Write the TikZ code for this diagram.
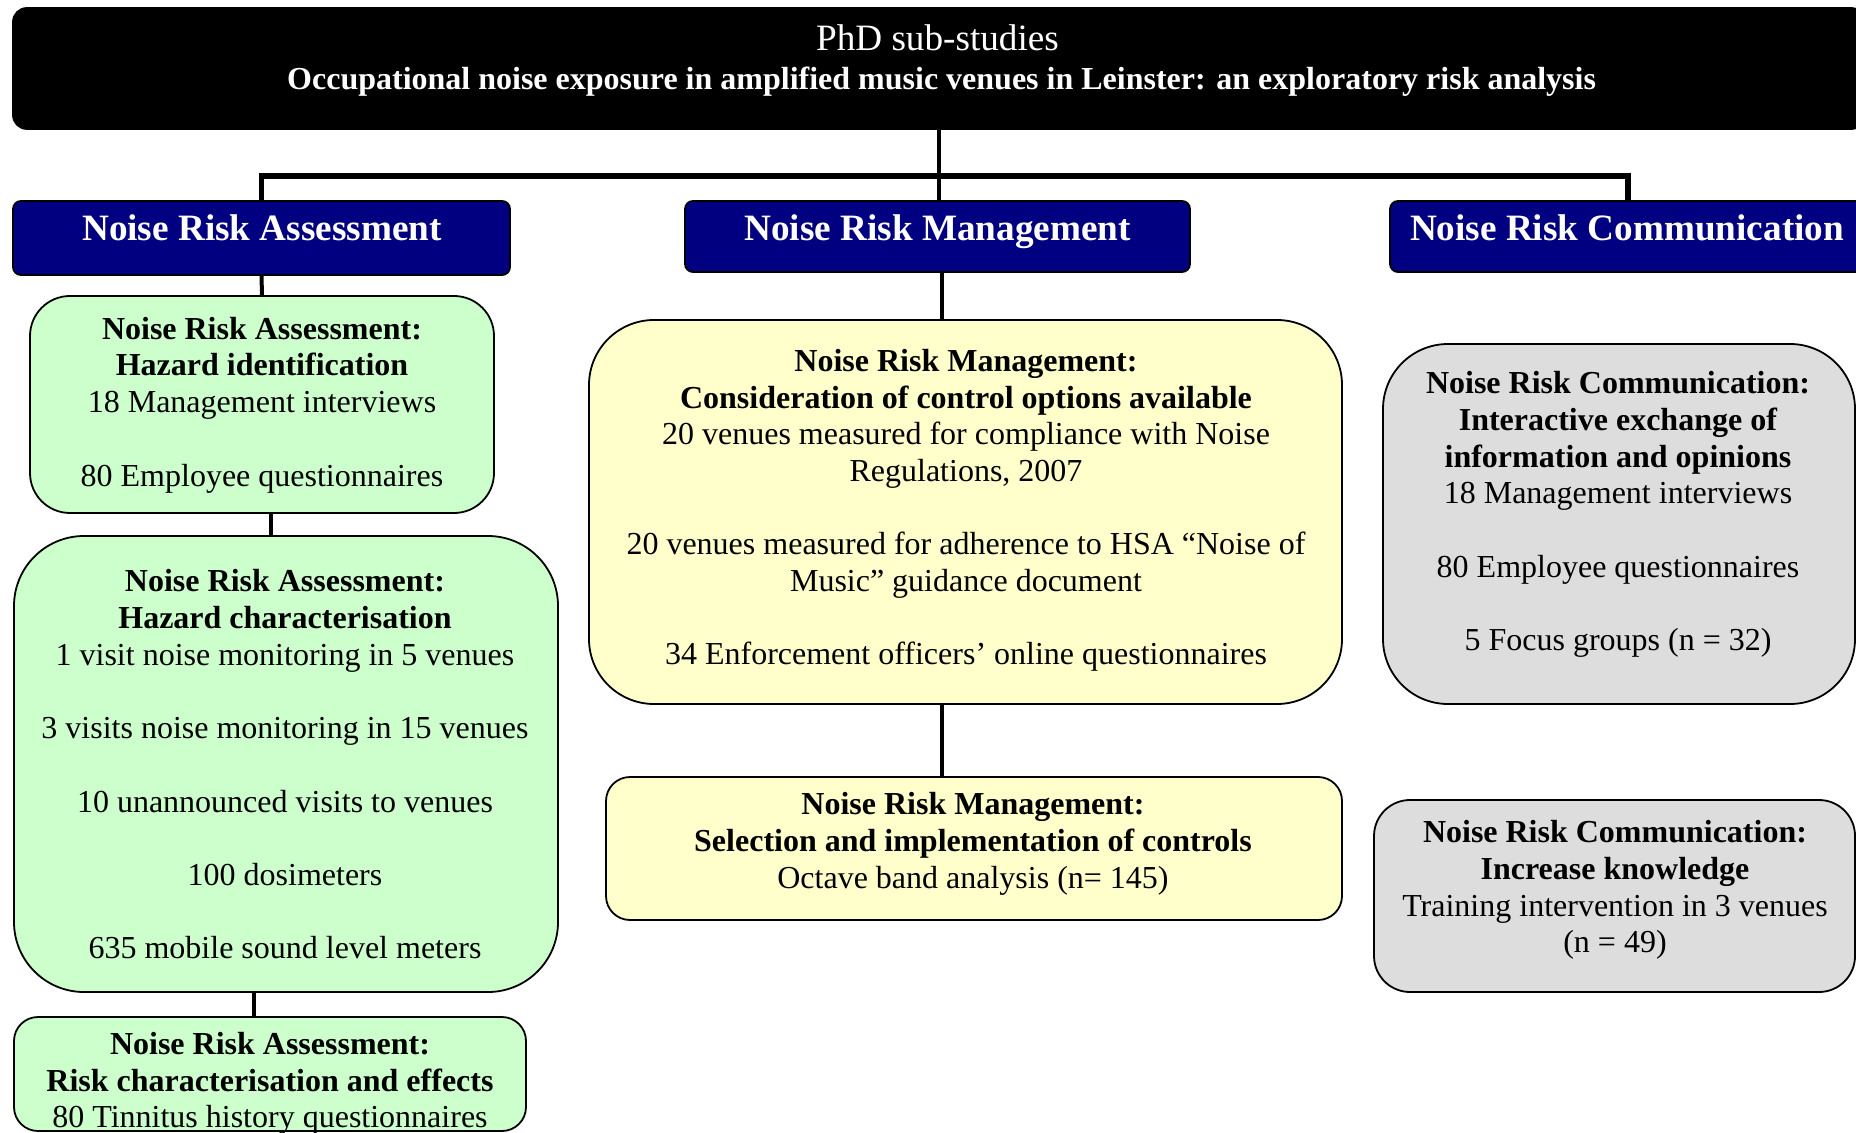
\documentclass[tikz,border=0pt]{standalone}
\usepackage{fontspec}
\setmainfont{Liberation Serif}
\usetikzlibrary{calc}
\definecolor{hdrnavy}{HTML}{000080}
\definecolor{boxgreen}{HTML}{CCFFCC}
\definecolor{boxyellow}{HTML}{FFFFCC}
\definecolor{boxgray}{HTML}{DDDDDD}
\tikzset{
  box/.style={draw=black, line width=0.9pt, inner sep=0pt, outer sep=0pt},
  hdrbox/.style={box, fill=hdrnavy, rounded corners=4pt},
  txt/.style={inner sep=0pt, align=center, font=\fontsize{16}{18.35}\selectfont},
  hdrtxt/.style={inner sep=0pt, text=white, font=\fontsize{18.6}{21}\selectfont\bfseries},
  link/.style={line width=2pt, draw=black},
}
\begin{document}
\begin{tikzpicture}[x=0.5pt,y=-0.5pt]
\clip (0,0) rectangle (1856,1133);
\fill[white] (0,0) rectangle (1856,1133);

% title bar
\node[box, fill=black, rounded corners=7pt, minimum width=926pt, minimum height=60.5pt] (top) at (939,68.5) {};
\node[hdrtxt, font=\fontsize{18.6}{21}\selectfont] (ttl1) at (937.5,38) {PhD sub-studies};
\node[hdrtxt, font=\fontsize{16}{18.35}\selectfont\bfseries] (ttl2) at (941.6,81.5) {Occupational noise exposure in amplified music venues in Leinster: an exploratory risk analysis};

% column headers
\node[hdrbox, minimum width=248.5pt, minimum height=37pt] (hL) at (261.5,238) {};
\node[hdrbox, minimum width=252.5pt, minimum height=35.5pt] (hM) at (937.5,236.5) {};
\node[hdrbox, minimum width=238pt, minimum height=35.5pt] (hR) at (1628,236.5) {};
\node[hdrtxt, anchor=base] (tL) at (262,241) {Noise Risk Assessment};
\node[hdrtxt, anchor=base] (tM) at (937.5,241) {Noise Risk Management};
\node[hdrtxt, anchor=base] (tR) at (1627,241) {Noise Risk Communication};

% assessment column
\node[box, fill=boxgreen, rounded corners=20pt, minimum width=232pt, minimum height=108.5pt] (g1) at (262,404.5) {};
\node[box, fill=boxgreen, rounded corners=35pt, minimum width=272pt, minimum height=228pt] (g2) at (286,764) {};
\node[box, fill=boxgreen, rounded corners=12pt, minimum width=256pt, minimum height=57pt] (g3) at (270,1074) {};
\node[txt] (tg1) at (262,405) {\textbf{Noise Risk Assessment:}\\ \textbf{Hazard identification}\\ 18 Management interviews\\[18.35pt] 80 Employee questionnaires};
\node[txt] (tg2) at (285,764.5) {\textbf{Noise Risk Assessment:}\\ \textbf{Hazard characterisation}\\ 1 visit noise monitoring in 5 venues\\[18.35pt] 3 visits noise monitoring in 15 venues\\[18.35pt] 10 unannounced visits to venues\\[18.35pt] 100 dosimeters\\[18.35pt] 635 mobile sound level meters};
\node[txt] (tg3) at (270,1083.5) {\textbf{Noise Risk Assessment:}\\ \textbf{Risk characterisation and effects}\\ 80 Tinnitus history questionnaires};

% management column
\node[box, fill=boxyellow, rounded corners=32.5pt, minimum width=376.5pt, minimum height=192pt] (y1) at (965.5,512) {};
\node[box, fill=boxyellow, rounded corners=12pt, minimum width=368pt, minimum height=71.5pt] (y2) at (974,848.5) {};
\node[txt] (ty1) at (966,510.5) {\textbf{Noise Risk Management:}\\ \textbf{Consideration of control options available}\\ 20 venues measured for compliance with Noise\\ Regulations, 2007\\[18.35pt] 20 venues measured for adherence to HSA “Noise of\\ Music” guidance document\\[18.35pt] 34 Enforcement officers’ online questionnaires};
\node[txt] (ty2) at (973,844) {\textbf{Noise Risk Management:}\\ \textbf{Selection and implementation of controls}\\ Octave band analysis (n= 145)};

% communication column
\node[box, fill=boxgray, rounded corners=32.5pt, minimum width=236pt, minimum height=180pt] (gr1) at (1619,524) {};
\node[box, fill=boxgray, rounded corners=18pt, minimum width=240.5pt, minimum height=96pt] (gr2) at (1614.5,896) {};
\node[txt] (tgr1) at (1618,514.5) {\textbf{Noise Risk Communication:}\\ \textbf{Interactive exchange of}\\ \textbf{information and opinions}\\ 18 Management interviews\\[18.35pt] 80 Employee questionnaires\\[18.35pt] 5 Focus groups (n = 32)};
\node[txt] (tgr2) at (1615,890) {\textbf{Noise Risk Communication:}\\ \textbf{Increase knowledge}\\ Training intervention in 3 venues\\ (n = 49)};

% tree connectors
\coordinate (jn) at (939,176);
\draw[link] (top.south) -- (top.south |- hM.north);
\draw[link, line width=2.8pt] (hL.north) |- (jn) -| (hR.north);
\draw[link] (hL.south) -- (g1.north);
\coordinate (x12) at (271,0);
\coordinate (x23) at (254,0);
\coordinate (xm) at (942,0);
\draw[link] (g1.south -| x12) -- (g2.north -| x12);
\draw[link] (g2.south -| x23) -- (g3.north -| x23);
\draw[link] (hM.south -| xm) -- (y1.north -| xm);
\draw[link] (y1.south -| xm) -- (y2.north -| xm);
\end{tikzpicture}
\end{document}
